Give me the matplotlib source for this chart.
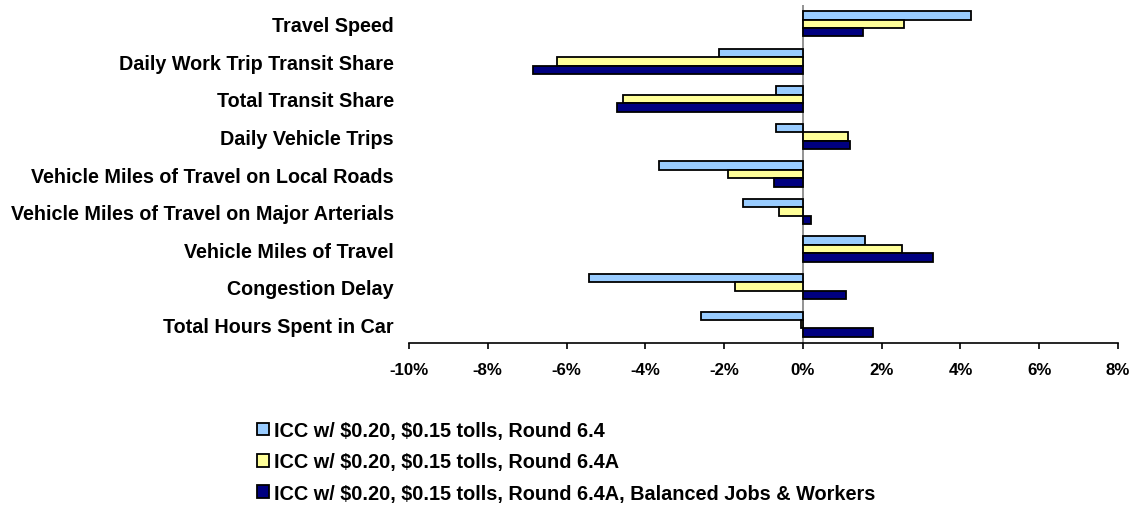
import matplotlib.pyplot as plt
import numpy as np

plt.rcParams['font.family'] = ['Liberation Sans', 'DejaVu Sans']
plt.rcParams['font.weight'] = 'bold'

categories = [
    "Travel Speed",
    "Daily Work Trip Transit Share",
    "Total Transit Share",
    "Daily Vehicle Trips",
    "Vehicle Miles of Travel on Local Roads",
    "Vehicle Miles of Travel on Major Arterials",
    "Vehicle Miles of Travel",
    "Congestion Delay",
    "Total Hours Spent in Car",
]

# percent change
round_64 = [4.28, -2.13, -0.69, -0.67, -3.65, -1.52, 1.57, -5.43, -2.59]
round_64a = [2.56, -6.24, -4.57, 1.15, -1.89, -0.60, 2.52, -1.73, -0.05]
round_64a_bal = [1.52, -6.84, -4.72, 1.20, -0.74, 0.20, 3.30, 1.10, 1.78]

series_names = [
    r"ICC w/ \$0.20, \$0.15 tolls, Round 6.4",
    r"ICC w/ \$0.20, \$0.15 tolls, Round 6.4A",
    r"ICC w/ \$0.20, \$0.15 tolls, Round 6.4A, Balanced Jobs & Workers",
]
colors = ["#99CCFF", "#FFFF99", "#000080"]

fig = plt.figure(figsize=(11.34, 5.10), dpi=100)
ax = fig.add_axes([409 / 1134, 1 - 344 / 510, (1118 - 409) / 1134, (344 - 6) / 510])

y = np.arange(len(categories))
h = 0.225
series = [round_64, round_64a, round_64a_bal]
handles = []
for i, (vals, col, name) in enumerate(zip(series, colors, series_names)):
    b = ax.barh(y + (i - 1) * h, vals, height=h, color=col, edgecolor="black",
                linewidth=1.3, label=name)
    handles.append(b)

ax.axvline(0, color="#808080", linewidth=1.2, zorder=0.5)
ax.set_xlim(-10, 8)
ax.set_ylim(len(categories) - 0.5, -0.5)
ax.set_xticks(np.arange(-10, 9, 2))
ax.set_xticklabels([f"{v}%" for v in range(-10, 9, 2)], fontsize=12.2, fontweight="bold")
ax.tick_params(axis="x", direction="out", length=4, width=1.2, pad=10)
ax.set_yticks(y)
ax.set_yticklabels(categories, fontsize=14.2, fontweight="bold")
ax.tick_params(axis="y", length=0, pad=11)
for s in ["top", "right", "left"]:
    ax.spines[s].set_visible(False)
ax.spines["bottom"].set_linewidth(1.2)

fig.legend(handles=handles, labels=series_names, loc="upper left",
           bbox_to_anchor=(257 / 1134, 1 - 422 / 510), frameon=False,
           prop={"size": 14.3, "weight": "bold"}, handlelength=0.6, handleheight=0.6,
           handletextpad=0.25, labelspacing=0.62, borderaxespad=0, borderpad=0)

fig.savefig("out.png", dpi=100)
